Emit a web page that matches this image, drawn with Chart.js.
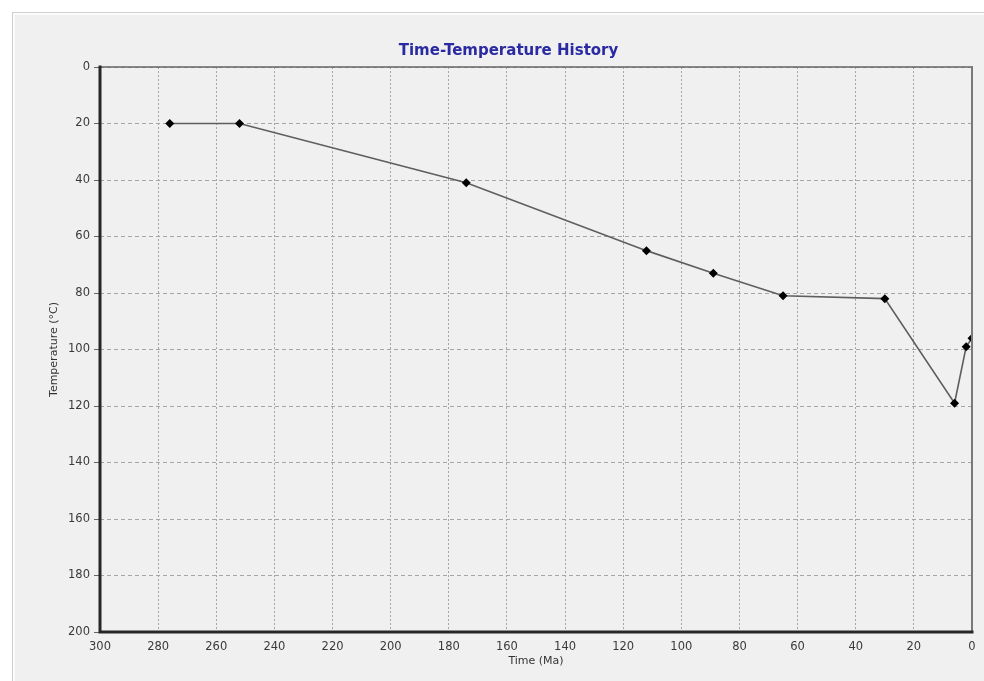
<!DOCTYPE html>
<html>
<head>
<meta charset="utf-8">
<script src="https://cdn.jsdelivr.net/npm/chart.js@4.4.1/dist/chart.umd.min.js"></script>
<style>
  html, body { margin: 0; padding: 0; background: #ffffff; width: 984px; height: 681px; overflow: hidden; }
  #panel {
    position: absolute; left: 12px; top: 12px; width: 980px; height: 680px;
    background: #f0f0f0;
    border-left: 1px solid #cfcfcf; border-top: 1px solid #cfcfcf;
    box-shadow: inset 2px 2px 0 #fbfbfb;
  }
  #wrap { position: absolute; left: 0; top: 0; width: 984px; height: 681px; }
</style>
</head>
<body>
<div id="panel"></div>
<div id="wrap"><canvas id="chart" width="984" height="681"></canvas></div>
<script>
// Burial / thermal history nodes: age (Ma) and temperature (°C)
const timeMa = [276, 252, 174, 112, 89, 65, 30, 6, 2, 0];
const temperatureC = [20, 20, 41, 65, 73, 81, 82, 119, 99, 96];

// Axis ranges and tick spacing
const timeRange = [0, 300];
const tempRange = [0, 200];
const tickStep = 20;

const points = timeMa.map((t, i) => ({ x: t, y: temperatureC[i] }));

// Plot frame: heavy left/bottom axes, lighter top/right edges
const framePlugin = {
  id: 'plotFrame',
  afterDatasetsDraw(chart) {
    const { ctx, chartArea: a } = chart;
    ctx.save();
    ctx.lineCap = 'square';
    ctx.strokeStyle = '#666666';
    ctx.lineWidth = 1.5;
    ctx.beginPath();
    ctx.moveTo(a.left, a.top);
    ctx.lineTo(a.right, a.top);
    ctx.stroke();
    ctx.strokeStyle = '#7a7a7a';
    ctx.lineWidth = 2;
    ctx.beginPath();
    ctx.moveTo(a.right, a.top);
    ctx.lineTo(a.right, a.bottom);
    ctx.stroke();
    ctx.strokeStyle = '#262626';
    ctx.lineWidth = 3;
    ctx.beginPath();
    ctx.moveTo(a.left, a.top);
    ctx.lineTo(a.left, a.bottom);
    ctx.lineTo(a.right, a.bottom);
    ctx.stroke();
    ctx.restore();
  }
};

new Chart(document.getElementById('chart'), {
  type: 'scatter',
  data: {
    datasets: [{
      data: points,
      showLine: true,
      borderColor: '#5e5e5e',
      borderWidth: 1.6,
      pointStyle: 'rectRot',
      pointRadius: 4.5,
      pointBackgroundColor: '#000000',
      pointBorderColor: '#000000',
      pointBorderWidth: 0,
      clip: 0
    }]
  },
  plugins: [framePlugin],
  options: {
    responsive: false,
    animation: false,
    layout: { padding: { left: 45, right: 12, top: 0, bottom: 0 } },
    plugins: {
      legend: { display: false },
      tooltip: { enabled: false },
      title: {
        display: true,
        text: 'Time-Temperature History',
        color: '#2a2aa2',
        font: { family: 'DejaVu Sans', size: 15, weight: 'bold' },
        padding: { top: 42, bottom: 7 }
      }
    },
    scales: {
      x: {
        type: 'linear',
        reverse: true,
        min: timeRange[0],
        max: timeRange[1],
        afterFit(scale) { scale.height = 49; },
        ticks: {
          stepSize: tickStep,
          color: '#3a3a3a',
          padding: 8,
          maxRotation: 0,
          font: { family: 'DejaVu Sans', size: 11.5 }
        },
        grid: {
          color: '#a5a5a5',
          lineWidth: 1,
          drawTicks: false
        },
        border: { display: false, dash: [2, 2] },
        title: {
          display: true,
          text: 'Time (Ma)',
          color: '#333333',
          font: { family: 'DejaVu Sans', size: 11 },
          padding: { top: 13, bottom: 13 }
        }
      },
      y: {
        type: 'linear',
        reverse: true,
        min: tempRange[0],
        max: tempRange[1],
        afterFit(scale) { scale.width = 55; },
        ticks: {
          stepSize: tickStep,
          color: '#3a3a3a',
          padding: 4,
          font: { family: 'DejaVu Sans', size: 11.5 }
        },
        grid: {
          color: '#a5a5a5',
          lineWidth: 1,
          drawTicks: true,
          tickLength: 6,
          tickColor: '#666666',
          tickBorderDash: []
        },
        border: { display: false, dash: [4, 3] },
        title: {
          display: true,
          text: 'Temperature (°C)',
          color: '#333333',
          font: { family: 'DejaVu Sans', size: 11 },
          padding: { top: 3, bottom: 3 }
        }
      }
    }
  }
});
</script>
</body>
</html>
